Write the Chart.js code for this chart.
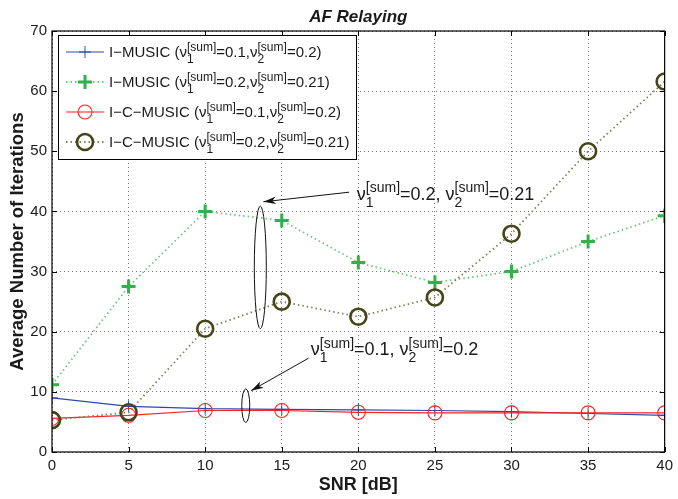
<!DOCTYPE html>
<html><head><meta charset="utf-8">
<script src="https://cdn.jsdelivr.net/npm/chart.js@4/dist/chart.umd.min.js"></script>
<style>html,body{margin:0;padding:0;background:#fff}</style>
</head><body><canvas id="c" width="678" height="499"></canvas>
<script>
// ---- data ----
const snr = [0, 5, 10, 15, 20, 25, 30, 35, 40];
const iMusicLow   = [9.0, 7.6, 7.2, 7.1, 7.0, 6.9, 6.7, 6.4, 6.1];
const iMusicHigh  = [11.2, 27.5, 40.0, 38.5, 31.5, 28.2, 30.0, 35.0, 39.3];
const icMusicLow  = [5.6, 6.1, 6.9, 6.9, 6.6, 6.5, 6.5, 6.5, 6.5];
const icMusicHigh = [5.3, 6.6, 20.5, 25.0, 22.5, 25.7, 36.3, 50.0, 61.6];
const xTicks = [0, 5, 10, 15, 20, 25, 30, 35, 40];
const yTicks = [0, 10, 20, 30, 40, 50, 60, 70];
const chartTitle = 'AF Relaying';
const xTitle = 'SNR [dB]';
const yTitle = 'Average Number of Iterations';
const legendLabels = [
  ['I\u2212MUSIC (', {sub: '1'}, '=0.1,', {sub: '2'}, '=0.2)'],
  ['I\u2212MUSIC (', {sub: '1'}, '=0.2,', {sub: '2'}, '=0.21)'],
  ['I\u2212C\u2212MUSIC (', {sub: '1'}, '=0.1,', {sub: '2'}, '=0.2)'],
  ['I\u2212C\u2212MUSIC (', {sub: '1'}, '=0.2,', {sub: '2'}, '=0.21)']
];
const noteHigh = [{sub: '1'}, '=0.2, ', {sub: '2'}, '=0.21'];
const noteLow  = [{sub: '1'}, '=0.1, ', {sub: '2'}, '=0.2'];

const FONT = '"Liberation Sans", Arial, Helvetica, sans-serif';

function pts(ys) { return snr.map((x, i) => ({x: x, y: ys[i]})); }

function drawRich(ctx, x, y, parts, size) {
  const main = size + 'px ' + FONT;
  const small = Math.round(size * 0.8) + 'px ' + FONT;
  ctx.textAlign = 'left';
  ctx.textBaseline = 'alphabetic';
  ctx.fillStyle = '#1a1a1a';
  for (const p of parts) {
    if (typeof p === 'string') {
      ctx.font = main; ctx.fillText(p, x, y); x += ctx.measureText(p).width;
    } else {
      ctx.font = main; ctx.fillText('\u03BD', x, y); x += ctx.measureText('\u03BD').width;
      ctx.font = small;
      ctx.fillText('[sum]', x, y - size * 0.42);
      ctx.fillText(p.sub, x, y + size * 0.4);
      x += Math.max(ctx.measureText('[sum]').width, ctx.measureText(p.sub).width);
    }
  }
  return x;
}

const styles = [
  {color: '#2a4aa8', line: '#2a4aa8', dash: [], lw: 1.2, pstyle: 'cross', r: 6, pw: 1},
  {color: '#2fb24a', line: '#6cc77c', dash: [1.5, 3], lw: 1.8, pstyle: 'cross', r: 7, pw: 3},
  {color: '#ff2020', line: '#ff2020', dash: [], lw: 1.2, pstyle: 'circle', r: 7, pw: 1.1},
  {color: '#45451a', line: '#828262', dash: [1.5, 3], lw: 1.8, pstyle: 'circle', r: 8, pw: 2.6}
];
const series = [iMusicLow, iMusicHigh, icMusicLow, icMusicHigh];
const orders = [4, 3, 2, 1];

const datasets = series.map((s, i) => ({
  data: pts(s),
  borderColor: styles[i].line,
  borderWidth: styles[i].lw,
  borderDash: styles[i].dash,
  pointStyle: styles[i].pstyle,
  pointRadius: styles[i].r,
  pointBorderColor: styles[i].color,
  pointBorderWidth: styles[i].pw,
  pointBackgroundColor: 'rgba(0,0,0,0)',
  pointHoverRadius: styles[i].r,
  fill: false,
  tension: 0,
  order: orders[i]
}));

function ellipse(ctx, cx, cy, rx, ry) {
  ctx.beginPath(); ctx.ellipse(cx, cy, rx, ry, 0, 0, Math.PI * 2); ctx.stroke();
}
function arrow(ctx, x1, y1, x2, y2) {
  ctx.beginPath(); ctx.moveTo(x1, y1); ctx.lineTo(x2, y2); ctx.stroke();
  const a = Math.atan2(y2 - y1, x2 - x1), L = 13, w = 0.28;
  ctx.beginPath();
  ctx.moveTo(x2, y2);
  ctx.lineTo(x2 - L * Math.cos(a - w), y2 - L * Math.sin(a - w));
  ctx.lineTo(x2 - L * 0.7 * Math.cos(a), y2 - L * 0.7 * Math.sin(a));
  ctx.lineTo(x2 - L * Math.cos(a + w), y2 - L * Math.sin(a + w));
  ctx.closePath(); ctx.fill();
}

const decor = {
  id: 'decor',
  afterDatasetsDraw(chart) {
    const ctx = chart.ctx, xs = chart.scales.x, ys = chart.scales.y, ca = chart.chartArea;
    const X = v => xs.getPixelForValue(v), Y = v => ys.getPixelForValue(v);
    ctx.save();
    // frame + inward ticks
    ctx.strokeStyle = '#000'; ctx.lineWidth = 1.2; ctx.setLineDash([]);
    ctx.strokeRect(ca.left, ca.top, ca.right - ca.left, ca.bottom - ca.top);
    ctx.lineWidth = 1;
    ctx.beginPath();
    xTicks.forEach(v => { const p = Math.round(X(v)) + 0.5;
      ctx.moveTo(p, ca.bottom); ctx.lineTo(p, ca.bottom - 5);
      ctx.moveTo(p, ca.top); ctx.lineTo(p, ca.top + 5); });
    yTicks.forEach(v => { const p = Math.round(Y(v)) + 0.5;
      ctx.moveTo(ca.left, p); ctx.lineTo(ca.left + 5, p);
      ctx.moveTo(ca.right, p); ctx.lineTo(ca.right - 5, p); });
    ctx.stroke();

    // annotations
    ctx.strokeStyle = '#111'; ctx.fillStyle = '#111'; ctx.lineWidth = 1;
    ellipse(ctx, X(13.6), Y(30.7), 6, (Y(20.5) - Y(40.9)) / 2);
    arrow(ctx, X(19.4), Y(43.2), X(13.8), Y(41.6));
    ellipse(ctx, X(12.65), Y(7.7), 4, (Y(4.9) - Y(10.5)) / 2);
    arrow(ctx, X(16.75), Y(15.6), X(13.0), Y(10.2));
    drawRich(ctx, X(19.9), Y(41.9), noteHigh, 18);
    drawRich(ctx, X(16.9), Y(16.1), noteLow, 18);

    // legend
    const lx = 58, ly = 35, lw = 298, lh = 124;
    ctx.fillStyle = '#fff'; ctx.fillRect(lx, ly, lw, lh);
    ctx.strokeStyle = '#000'; ctx.lineWidth = 1; ctx.strokeRect(lx + 0.5, ly + 0.5, lw, lh);
    legendLabels.forEach((parts, i) => {
      const st = styles[i], cy = ly + 17 + i * 30;
      ctx.strokeStyle = st.line; ctx.lineWidth = st.lw; ctx.setLineDash(st.dash);
      ctx.beginPath(); ctx.moveTo(lx + 8, cy); ctx.lineTo(lx + 46, cy); ctx.stroke();
      ctx.setLineDash([]);
      ctx.strokeStyle = st.color; ctx.lineWidth = st.pw;
      const mx = lx + 27;
      ctx.beginPath();
      if (st.pstyle === 'cross') {
        ctx.moveTo(mx - st.r, cy); ctx.lineTo(mx + st.r, cy);
        ctx.moveTo(mx, cy - st.r); ctx.lineTo(mx, cy + st.r);
      } else {
        ctx.arc(mx, cy, st.r, 0, Math.PI * 2);
      }
      ctx.stroke();
      drawRich(ctx, lx + 51, cy + 5, parts, 15);
    });

    // title
    ctx.fillStyle = '#1a1a1a';
    ctx.font = 'italic bold 17px ' + FONT;
    ctx.textAlign = 'center'; ctx.textBaseline = 'alphabetic';
    ctx.fillText(chartTitle, (ca.left + ca.right) / 2, 22);
    ctx.restore();
  }
};

new Chart(document.getElementById('c'), {
  type: 'line',
  data: {datasets: datasets},
  plugins: [decor],
  options: {
    responsive: false, animation: false, devicePixelRatio: 1,
    layout: {padding: {top: 31, right: 10, left: 0, bottom: 0}},
    plugins: {legend: {display: false}, title: {display: false}, tooltip: {enabled: false}},
    scales: {
      x: {
        type: 'linear', min: 0, max: 40,
        afterBuildTicks: s => { s.ticks = xTicks.map(v => ({value: v})); },
        afterFit: s => { s.height = 47; },
        ticks: {font: {family: FONT, size: 15}, color: '#1a1a1a', padding: 5, maxRotation: 0, autoSkip: false},
        grid: {color: '#666', lineWidth: 0.9, drawTicks: false},
        border: {display: false, dash: [1, 3]},
        title: {display: true, text: xTitle, font: {family: FONT, size: 18, weight: 'bold'}, color: '#1a1a1a', padding: {top: 0, bottom: 3}}
      },
      y: {
        type: 'linear', min: 0, max: 70,
        afterBuildTicks: s => { s.ticks = yTicks.map(v => ({value: v})); },
        afterFit: s => { s.width = 52; },
        ticks: {font: {family: FONT, size: 15}, color: '#1a1a1a', padding: 5, autoSkip: false},
        grid: {color: '#666', lineWidth: 0.9, drawTicks: false},
        border: {display: false, dash: [1, 3]},
        title: {display: true, text: yTitle, font: {family: FONT, size: 18.5, weight: 'bold'}, color: '#1a1a1a', padding: {top: 7, bottom: 0}}
      }
    }
  }
});
</script>
</body></html>
